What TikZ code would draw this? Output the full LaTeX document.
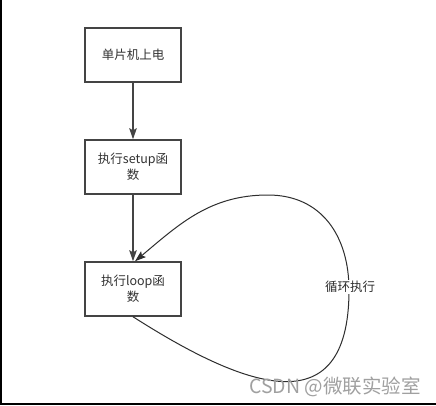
\documentclass[tikz,border=0pt]{standalone}
\usepackage{fontspec}
\setmainfont{Noto Sans CJK SC}
\usetikzlibrary{arrows.meta}
\definecolor{boxc}{HTML}{444444}
\definecolor{txtc}{HTML}{333333}
\definecolor{curvec}{HTML}{2E2E2E}
\definecolor{wmc}{HTML}{A0A0A0}
\tikzset{
  stepbox/.style={draw=boxc, line width=1.5pt, minimum width=96pt, minimum height=54pt,
    inner sep=0pt, align=center, text=txtc, font=\fontsize{12.5}{15.5}\selectfont},
  flowarrow/.style={draw=boxc, line width=1.5pt, -{Stealth[length=11pt,width=7.5pt,inset=2pt]}},
  loopline/.style={draw=curvec, line width=1pt, -{Stealth[length=11pt,width=7.5pt,inset=2pt]}},
  looplabel/.style={fill=white, inner sep=1pt, text=curvec, font=\fontsize{12.5}{15}\selectfont},
  watermark/.style={text=wmc, inner sep=0pt, font=\fontsize{19.5}{21}\selectfont}
}
\begin{document}
\begin{tikzpicture}[x=1pt,y=1pt]
  \useasboundingbox (0,0) rectangle (436,405);
  \fill[white] (0,0) rectangle (436,405);
  % frame lines
  \draw[black, line width=1.5pt] (0.75,405) -- (0.75,1) -- (436,1);
  % boxes
  \node[stepbox] (a) at (133,350) {单片机上电};
  \node[stepbox] (b) at (133,238) {执行setup函\\数};
  \node[stepbox] (c) at (133,116) {执行loop函\\数};
  % straight arrows
  \draw[flowarrow] (a) -- (b);
  \draw[flowarrow] (b) -- (c);
  % loop
  \draw[loopline] (c.south) .. controls (240,20) and (349,-25) .. (349,115)
     to[out=90,in=0,looseness=1.1] (268,210)
     to[out=180,in=40] ([xshift=2pt]c.north);
  \node[looplabel] (lab) at (350,118) {循环执行};
  % watermark
  \node[watermark, anchor=east] (wm) at (421,18) {CSDN @微联实验室};
\end{tikzpicture}
\end{document}
